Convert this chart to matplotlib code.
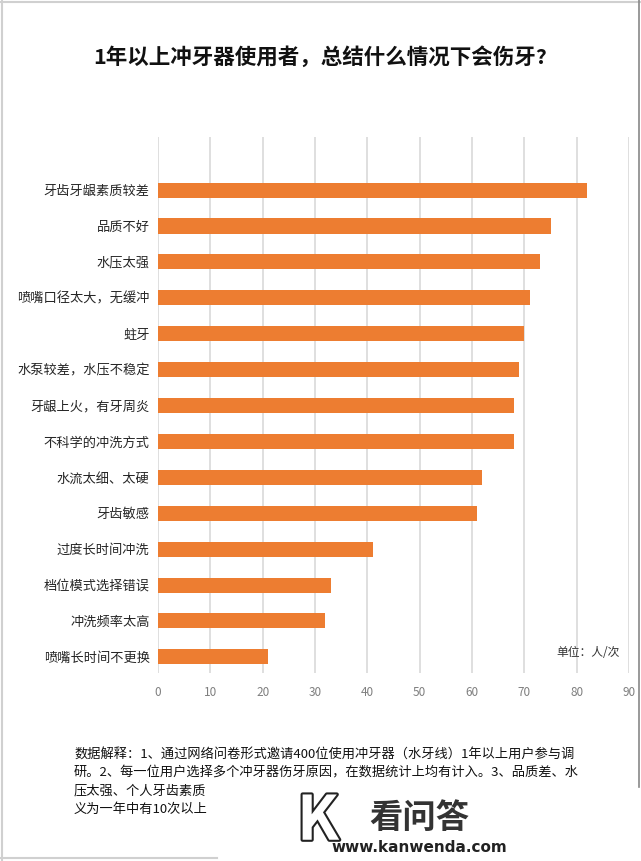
import matplotlib
matplotlib.use("Agg")
import matplotlib.pyplot as plt
from matplotlib.lines import Line2D
import matplotlib.patheffects as pe

plt.rcParams['font.family'] = ['Noto Sans CJK SC', 'DejaVu Sans']

title = "1年以上冲牙器使用者，总结什么情况下会伤牙?"
categories = ["牙齿牙龈素质较差", "品质不好", "水压太强", "喷嘴口径太大，无缓冲", "蛀牙",
              "水泵较差，水压不稳定", "牙龈上火，有牙周炎", "不科学的冲洗方式", "水流太细、太硬",
              "牙齿敏感", "过度长时间冲洗", "档位模式选择错误", "冲洗频率太高", "喷嘴长时间不更换"]
values = [82, 75, 73, 71, 70, 69, 68, 68, 62, 61, 41, 33, 32, 21]
xticks = [0, 10, 20, 30, 40, 50, 60, 70, 80, 90]
unit_label = "单位：人/次"
notes = ["数据解释：1、通过网络问卷形式邀请400位使用冲牙器（水牙线）1年以上用户参与调",
         "研。2、每一位用户选择多个冲牙器伤牙原因，在数据统计上均有计入。3、品质差、水",
         "压太强、个人牙齿素质",
         "义为一年中有10次以上"]

W, H = 641, 861
fig = plt.figure(figsize=(W / 100, H / 100), dpi=100)
fig.patch.set_facecolor('white')

ax = fig.add_axes([158 / W, 1 - 673 / H, (629 - 158) / W, (673 - 137) / H])
ypos = list(range(len(categories)))
ax.barh(ypos, values, height=0.42, color='#ED7D31', zorder=3)
ax.set_xlim(0, 90)
ax.set_ylim(13.45, -1.48)
ax.set_xticks(xticks)
ax.set_xticklabels([str(t) for t in xticks], fontsize=8.5, color='#7f7f7f')
ax.set_yticks(ypos)
ax.set_yticklabels(categories, fontsize=9.5, color='#262626')
ax.tick_params(axis='both', length=0)
ax.tick_params(axis='y', pad=6)
ax.tick_params(axis='x', pad=9)
ax.xaxis.grid(True, color='#d9d9d9', linewidth=1.2, zorder=0)
ax.yaxis.grid(False)
for s in ax.spines.values():
    s.set_visible(False)

fig.text(0.5, 1 - 57 / H, title, ha='center', va='center', fontsize=15.5, fontweight='bold', color='#111111')
fig.text(620 / W, 1 - 653 / H, unit_label, ha='right', va='center', fontsize=8.5, color='#333333')

ys = [755, 773, 791, 809]
for line, y in zip(notes, ys):
    fig.text(74 / W, 1 - y / H, line, ha='left', va='center', fontsize=9.5, color='#111111')

# watermark
fig.text(318 / W, 1 - 822 / H, "K", ha='center', va='center', fontsize=44, fontweight='bold',
         color='white', path_effects=[pe.withStroke(linewidth=3, foreground='#222222')])
fig.text(419 / W, 1 - 818 / H, "看问答", ha='center', va='center', fontsize=24, fontweight='bold', color='#333333')
fig.text(419 / W, 1 - 848 / H, "www.kanwenda.com", ha='center', va='center', fontsize=11,
         fontweight='bold', color='#222222', family=['DejaVu Sans'])

# borders
fig.add_artist(Line2D([1.5 / W, 1.5 / W], [0, 1], color='#d0d0d0', linewidth=1.5))
fig.add_artist(Line2D([0, 1], [1 - 1.5 / H, 1 - 1.5 / H], color='#d0d0d0', linewidth=1.5))
fig.add_artist(Line2D([639 / W, 639 / W], [1 - 787 / H, 1], color='#888888', linewidth=1.2))
fig.add_artist(Line2D([0, 217 / W], [1 - 858 / H, 1 - 858 / H], color='#d0d0d0', linewidth=1.5))

fig.savefig("out.png", dpi=100, facecolor='white')
